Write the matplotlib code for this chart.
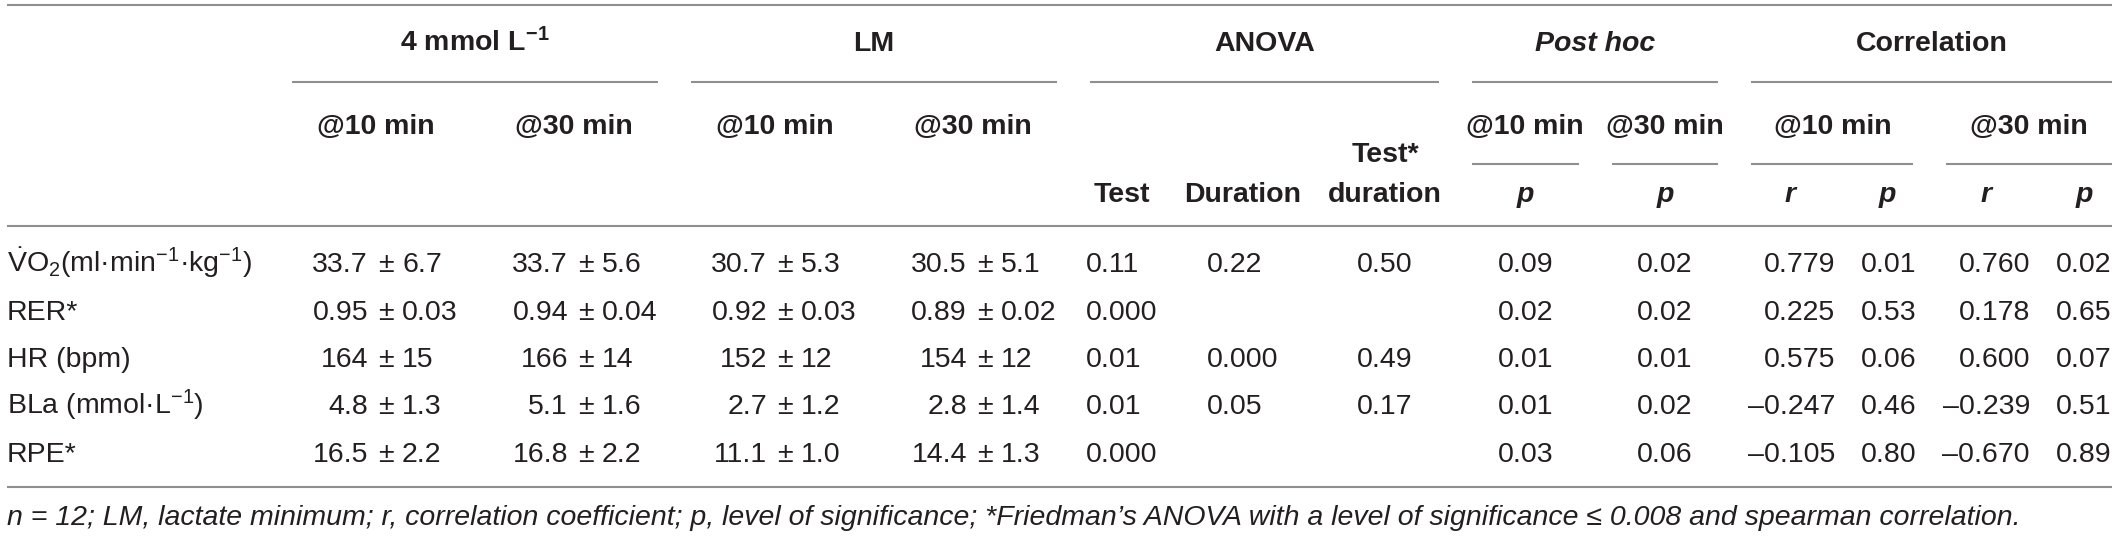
import matplotlib
matplotlib.use("Agg")
import matplotlib.pyplot as plt

plt.rcParams['font.family'] = ['Liberation Sans', 'DejaVu Sans']
plt.rcParams['mathtext.fontset'] = 'custom'
plt.rcParams['mathtext.rm'] = 'Liberation Sans'
plt.rcParams['mathtext.it'] = 'Liberation Sans:italic'
plt.rcParams['mathtext.bf'] = 'Liberation Sans:bold'

# ---------------- data ----------------
row_labels = [r'$\dot{\mathrm{V}}$O$_2$(ml·min$^{-1}$·kg$^{-1}$)', 'RER*', 'HR (bpm)',
              r'BLa (mmol·L$^{-1}$)', 'RPE*']
decimals = [1, 2, 0, 1, 1]
four_10_mean = [33.7, 0.95, 164, 4.8, 16.5]
four_10_sd = [6.7, 0.03, 15, 1.3, 2.2]
four_30_mean = [33.7, 0.94, 166, 5.1, 16.8]
four_30_sd = [5.6, 0.04, 14, 1.6, 2.2]
lm_10_mean = [30.7, 0.92, 152, 2.7, 11.1]
lm_10_sd = [5.3, 0.03, 12, 1.2, 1.0]
lm_30_mean = [30.5, 0.89, 154, 2.8, 14.4]
lm_30_sd = [5.1, 0.02, 12, 1.4, 1.3]
anova_test = ["0.11", "0.000", "0.01", "0.01", "0.000"]
anova_duration = ["0.22", "", "0.000", "0.05", ""]
anova_interaction = ["0.50", "", "0.49", "0.17", ""]
posthoc_10_p = ["0.09", "0.02", "0.01", "0.01", "0.03"]
posthoc_30_p = ["0.02", "0.02", "0.01", "0.02", "0.06"]
corr_10_r = [0.779, 0.225, 0.575, -0.247, -0.105]
corr_10_p = ["0.01", "0.53", "0.06", "0.46", "0.80"]
corr_30_r = [0.760, 0.178, 0.600, -0.239, -0.670]
corr_30_p = ["0.02", "0.65", "0.07", "0.51", "0.89"]

group_headers = [r'4 mmol L$^{\mathbf{-1}}$', 'LM', 'ANOVA', 'Post hoc', 'Correlation']
footnote = ("n = 12; LM, lactate minimum; r, correlation coefficient; p, level of significance; "
            "*Friedman\u2019s ANOVA with a level of significance \u2264 0.008 and spearman correlation.")

# ---------------- layout ----------------
W, H = 2118, 536
fig = plt.figure(figsize=(W / 100, H / 100), dpi=100)
ax = fig.add_axes([0, 0, 1, 1])
ax.set_xlim(0, W)
ax.set_ylim(H, 0)
ax.axis('off')

TXT = '#231f20'
LINE = '#8f8f8f'
FS = 20.5
LW = 1.5

def hline(x0, x1, y, lw=LW):
    ax.plot([x0, x1], [y, y], color=LINE, lw=lw, solid_capstyle='butt')

def t(x, y, s, ha='center', **kw):
    ax.text(x, y, s, ha=ha, va='baseline', fontsize=FS, color=TXT, **kw)

# rules
hline(7, 2112, 5)
hline(7, 2112, 226)
hline(7, 2112, 487)

# group headers
group_spans = [(292, 658), (691, 1057), (1090, 1439), (1472, 1718), (1751, 2112)]
for (x0, x1), g in zip(group_spans, group_headers):
    style = 'italic' if g == 'Post hoc' else 'normal'
    t((x0 + x1) / 2, 51, g, fontweight='bold', fontstyle=style)
    hline(x0, x1, 82)

# sub headers
for xc in [376, 574, 775, 973, 1525, 1665, 1833, 2029]:
    t(xc, 134, '@10 min' if xc in (376, 775, 1525, 1833) else '@30 min', fontweight='bold')

t(1122, 202, 'Test', fontweight='bold')
t(1243, 202, 'Duration', fontweight='bold')
t(1385, 162, 'Test*', fontweight='bold')
t(1385, 202, 'duration', fontweight='bold')

for (x0, x1) in [(1472, 1579), (1612, 1718), (1751, 1913), (1946, 2112)]:
    hline(x0, x1, 164)
for xc, s in [(1525, 'p'), (1665, 'p'), (1790, 'r'), (1887, 'p'), (1986, 'r'), (2084, 'p')]:
    t(xc, 202, s, fontweight='bold', fontstyle='italic')

# body rows
row_base = [272, 320, 367, 414, 462]
pm_x = [386, 586, 785, 985]
means = [four_10_mean, four_30_mean, lm_10_mean, lm_30_mean]
sds = [four_10_sd, four_30_sd, lm_10_sd, lm_30_sd]

def fmt(v, d):
    return f"{v:.{d}f}"

def fmt_r(v):
    s = f"{abs(v):.3f}"
    return ('\u2013' + s) if v < 0 else s

for i, y in enumerate(row_base):
    t(7, y, row_labels[i], ha='left')
    for c in range(4):
        d = decimals[i]
        t(pm_x[c] - 18, y, fmt(means[c][i], d), ha='right')
        t(pm_x[c], y, '\u00b1')
        t(pm_x[c] + 16, y, fmt(sds[c][i], d), ha='left')
    t(1086, y, anova_test[i], ha='left')
    t(1207, y, anova_duration[i], ha='left')
    t(1357, y, anova_interaction[i], ha='left')
    t(1498, y, posthoc_10_p[i], ha='left')
    t(1637, y, posthoc_30_p[i], ha='left')
    t(1835, y, fmt_r(corr_10_r[i]), ha='right')
    t(1861, y, corr_10_p[i], ha='left')
    t(2030, y, fmt_r(corr_30_r[i]), ha='right')
    t(2056, y, corr_30_p[i], ha='left')

t(7, 525, footnote, ha='left', fontstyle='italic')

fig.savefig('out.png', dpi=100)
